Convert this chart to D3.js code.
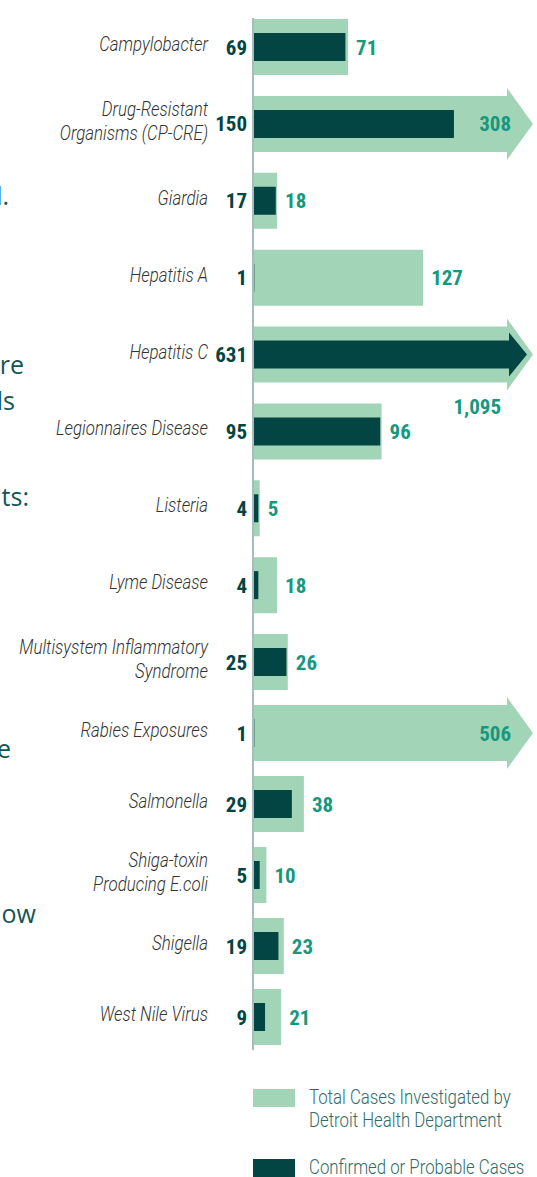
<!DOCTYPE html>
<html>
<head>
<meta charset="utf-8">
<script src="https://cdn.jsdelivr.net/npm/d3@7"></script>
<style>
  body { margin: 0; background: #fff; }
  svg { display: block; }
</style>
</head>
<body>
<svg id="chart" width="537" height="1177"></svg>
<script>
// values
const categories = [
    ["Campylobacter"],
    ["Drug-Resistant", "Organisms (CP-CRE)"],
    ["Giardia"],
    ["Hepatitis A"],
    ["Hepatitis C"],
    ["Legionnaires Disease"],
    ["Listeria"],
    ["Lyme Disease"],
    ["Multisystem Inflammatory", "Syndrome"],
    ["Rabies Exposures"],
    ["Salmonella"],
    ["Shiga-toxin", "Producing E.coli"],
    ["Shigella"],
    ["West Nile Virus"]
];
const confirmed = [69, 150, 17, 1, 631, 95, 4, 4, 25, 1, 29, 5, 19, 9];
const investigated = [71, 308, 18, 127, 1095, 96, 5, 18, 26, 506, 38, 10, 23, 21];
const legendLabels = [
    ["Total Cases Investigated by", "Detroit Health Department"],
    ["Confirmed or Probable Cases"]
];
// cut-off words of the neighbouring text column
const sideWords = ["nd.", "re", "ls", "ts:", "e", "ow"];

const width = 537;
const lightColor = '#a2d5b7';
const darkColor = '#024542';
const tealText = '#16987f';
const narrow = '"Liberation Sans Narrow", "Roboto Condensed", Roboto, sans-serif';

const svg = d3.select('#chart');

const x = d3.scaleLinear()
    .domain([0, 212])
    .range([253, width]);

// row centres are not evenly spaced in the original layout
const y = d3.scaleLinear()
    .domain([0, 8, categories.length - 1])
    .range([47, 662, 1017]);

const bodyEnd = width - 30;

function barPath(v, cy, h, head, tipX, endX) {
    const x0 = x(0);
    const x1 = x(v);
    if (x1 <= endX) {
        return `M${x0},${cy - h / 2}H${x1}V${cy + h / 2}H${x0}Z`;
    }
    return `M${x0},${cy - h / 2}H${endX}V${cy - h / 2 - head}L${tipX},${cy}` +
        `L${endX},${cy + h / 2 + head}V${cy + h / 2}H${x0}Z`;
}

// side text fragments
const sideLayout = [[9, 205], [24, 374], [15, 410], [29, 506], [11, 758], [36, 923]];
svg.append('g')
    .selectAll('text')
    .data(sideWords)
    .join('text')
    .attr('x', (d, i) => sideLayout[i][0])
    .attr('y', (d, i) => sideLayout[i][1])
    .attr('text-anchor', 'end')
    .attr('font-family', '"Open Sans", sans-serif')
    .attr('font-size', '25px')
    .attr('fill', '#145656')
    .text(d => d);

const rows = svg.append('g')
    .selectAll('g')
    .data(categories)
    .join('g');

rows.append('path')
    .attr('fill', lightColor)
    .attr('d', (d, i) => barPath(investigated[i], y(i), 56, 8, width - 4, bodyEnd));

rows.append('path')
    .attr('fill', darkColor)
    .attr('d', (d, i) => barPath(confirmed[i], y(i), 28, 8, width - 10, bodyEnd + 2));

// axis line
svg.append('line')
    .attr('x1', x(0)).attr('x2', x(0))
    .attr('y1', 18).attr('y2', 1050)
    .attr('stroke', '#a8bcbe')
    .attr('stroke-width', 2);

// category labels (light italic, squeezed to look condensed)
rows.append('text')
    .attr('transform', (d, i) => `translate(208, ${y(i)}) scale(0.83, 1)`)
    .attr('text-anchor', 'end')
    .attr('font-family', 'Roboto, sans-serif')
    .attr('font-style', 'italic')
    .attr('font-weight', 300)
    .attr('font-size', '20.3px')
    .attr('fill', '#333')
    .each(function (d) {
        const t = d3.select(this);
        const top = -(d.length - 1) * 12;
        d.forEach((line, j) => {
            t.append('tspan')
                .attr('x', 0)
                .attr('y', top + j * 24 - 3)
                .attr('dy', '0.35em')
                .text(line);
        });
    });

const fmt = d3.format(',');

// confirmed values
rows.append('text')
    .attr('x', x(0) - 6)
    .attr('y', (d, i) => y(i))
    .attr('dy', '0.36em')
    .attr('text-anchor', 'end')
    .attr('font-family', narrow)
    .attr('font-weight', 'bold')
    .attr('font-size', '21px')
    .attr('fill', darkColor)
    .text((d, i) => fmt(confirmed[i]));

// investigated values
rows.append('text')
    .attr('x', (d, i) => {
        if (x(confirmed[i]) > bodyEnd) return width - 36;
        if (x(investigated[i]) > bodyEnd) return width - 26;
        return x(investigated[i]) + 8;
    })
    .attr('y', (d, i) => x(confirmed[i]) > bodyEnd ? y(i) + 52 : y(i))
    .attr('dy', '0.36em')
    .attr('text-anchor', (d, i) => x(investigated[i]) > bodyEnd ? 'end' : 'start')
    .attr('font-family', narrow)
    .attr('font-weight', 'bold')
    .attr('font-size', '21px')
    .attr('fill', tealText)
    .text((d, i) => fmt(investigated[i]));

// legend
const legend = svg.append('g')
    .selectAll('g')
    .data(legendLabels)
    .join('g')
    .attr('transform', (d, i) => `translate(${x(0)}, ${i === 0 ? 1089 : 1159})`);

legend.append('rect')
    .attr('width', 42)
    .attr('height', 18)
    .attr('fill', (d, i) => i === 0 ? lightColor : darkColor);

legend.append('text')
    .attr('transform', 'translate(56, 0) scale(0.84, 1)')
    .attr('font-family', 'Roboto, sans-serif')
    .attr('font-weight', 300)
    .attr('font-size', '20px')
    .attr('fill', '#2f6b67')
    .selectAll('tspan')
    .data(d => d)
    .join('tspan')
    .attr('x', 0)
    .attr('y', (d, j) => 15 + j * 23)
    .text(d => d);
</script>
</body>
</html>
